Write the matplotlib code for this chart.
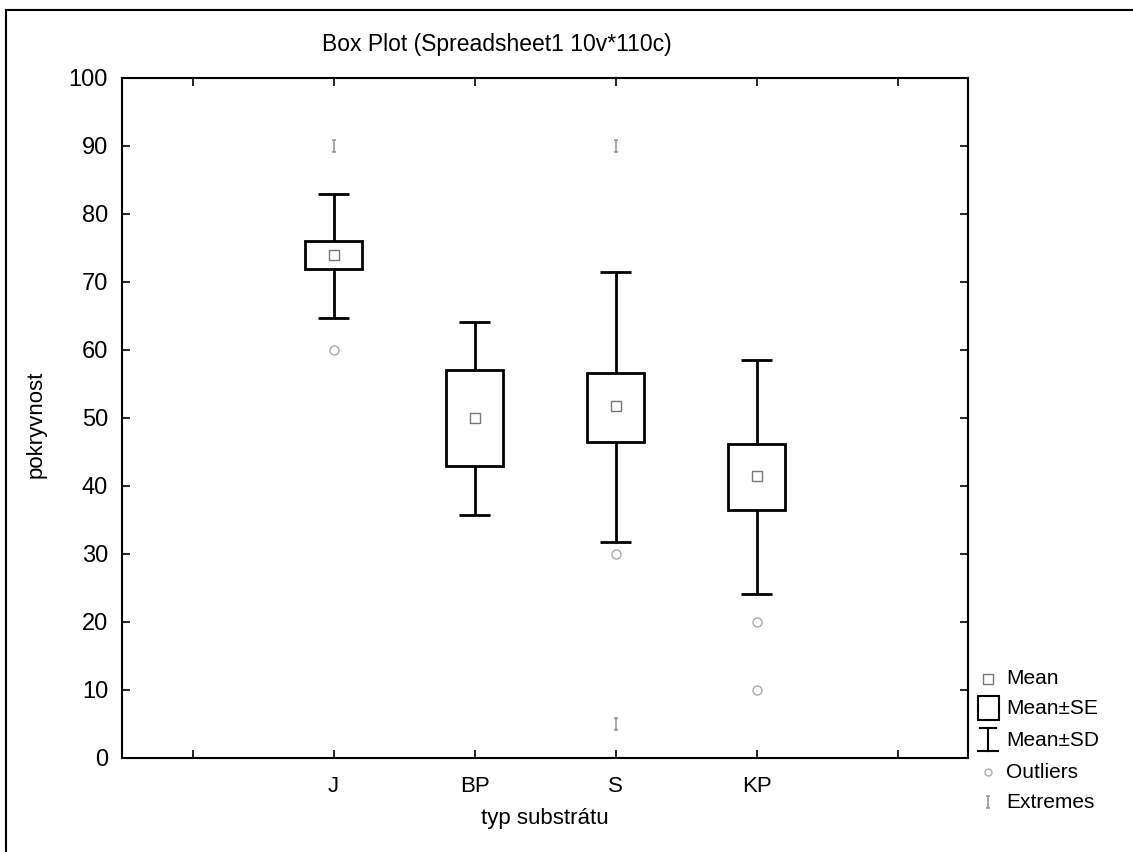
import matplotlib
matplotlib.use("Agg")
import matplotlib.pyplot as plt
from matplotlib.patches import Rectangle
from matplotlib.lines import Line2D
from matplotlib.path import Path
import numpy as np

plt.rcParams['font.family'] = ['Liberation Sans', 'DejaVu Sans']

# ---- data ----
categories = ["J", "BP", "S", "KP"]
means = [74.0, 50.0, 51.7, 41.4]
se_low = [71.9, 43.0, 46.5, 36.5]
se_high = [76.1, 57.0, 56.6, 46.2]
sd_low = [64.7, 35.8, 31.8, 24.1]
sd_high = [83.0, 64.1, 71.4, 58.5]
outliers = [[60.0], [], [30.0], [20.0, 10.0]]
extremes = [[90.0], [], [90.0, 5.0], []]
y_ticks = [0, 10, 20, 30, 40, 50, 60, 70, 80, 90, 100]

W, H = 1133, 852
fig = plt.figure(figsize=(W / 100, H / 100), dpi=100)
ax = fig.add_axes([122 / W, 1 - 758 / H, (968 - 122) / W, (758 - 78) / H])

positions = np.arange(1, len(categories) + 1)
box_w = 0.41
cap_w = 0.22
lw = 2.0

# extremes marker: an "I" shape
ipath = Path([(0, -1), (0, 1), (-0.35, 1), (0.35, 1), (-0.35, -1), (0.35, -1)],
             [Path.MOVETO, Path.LINETO, Path.MOVETO, Path.LINETO, Path.MOVETO, Path.LINETO])

for i, x in enumerate(positions):
    ax.add_patch(Rectangle((x - box_w / 2, se_low[i]), box_w, se_high[i] - se_low[i],
                           fill=False, edgecolor='black', linewidth=lw, zorder=3))
    ax.vlines(x, sd_low[i], se_low[i], color='black', linewidth=lw, zorder=3)
    ax.vlines(x, se_high[i], sd_high[i], color='black', linewidth=lw, zorder=3)
    ax.hlines([sd_low[i], sd_high[i]], x - cap_w / 2, x + cap_w / 2, color='black',
              linewidth=lw, zorder=3)
    ax.plot([x], [means[i]], marker='s', markersize=7.5, markerfacecolor='white',
            markeredgecolor='#777777', markeredgewidth=1.0, linestyle='none', zorder=4)
    if outliers[i]:
        ax.plot([x] * len(outliers[i]), outliers[i], marker='o', markersize=6.5,
                markerfacecolor='none', markeredgecolor='#aaaaaa', markeredgewidth=1.0,
                linestyle='none', zorder=4)
    if extremes[i]:
        ax.plot([x] * len(extremes[i]), extremes[i], marker=ipath, markersize=9,
                markerfacecolor='none', markeredgecolor='#999999', markeredgewidth=1.2,
                linestyle='none', zorder=4)

ax.set_xlim(-0.5, len(categories) + 1.5)
ax.set_ylim(0, 100)
ax.set_xticks(np.arange(0, len(categories) + 2))
ax.set_xticklabels([""] + categories + [""])
ax.set_yticks(y_ticks)
ax.tick_params(axis='x', direction='in', length=6, width=1.2, top=True, labelsize=16, pad=13)
ax.tick_params(axis='y', direction='in', length=6, width=1.2, right=True, labelsize=17, pad=10)
for s in ax.spines.values():
    s.set_linewidth(1.5)

ax.set_ylabel("pokryvnost", fontsize=16)
ax.yaxis.set_label_coords(-0.089, 0.49)
ax.set_xlabel("typ substrátu", fontsize=16)
ax.xaxis.set_label_coords(0.5, -0.073)

fig.text(497 / W, 1 - 45 / H, "Box Plot (Spreadsheet1 10v*110c)", ha='center',
         va='center', fontsize=16.5)

# figure border lines (top and left)
fig.add_artist(Line2D([6 / W, 1.0], [1 - 10 / H, 1 - 10 / H], transform=fig.transFigure,
                      color='black', linewidth=1.5))
fig.add_artist(Line2D([6 / W, 6 / W], [1 - 10 / H, 0.0], transform=fig.transFigure,
                      color='black', linewidth=1.5))

# ---- legend drawn in figure pixel space ----
def fx(px):
    return px / W

def fy(py):
    return 1 - py / H

leg_labels = ["Mean", "Mean±SE", "Mean±SD", "Outliers", "Extremes"]
leg_y = [679, 708, 740, 772, 802]
sym_x = 988
text_x = 1006
for lab, yy in zip(leg_labels, leg_y):
    fig.text(fx(text_x), fy(yy), lab, ha='left', va='center', fontsize=15)

# Mean symbol
fig.add_artist(Line2D([fx(sym_x)], [fy(leg_y[0])], transform=fig.transFigure, marker='s',
                      markersize=6.5, markerfacecolor='white', markeredgecolor='#777777',
                      markeredgewidth=1.0, linestyle='none'))
# SE box
fig.add_artist(Rectangle((fx(978), fy(720)), 21 / W, 24 / H, transform=fig.transFigure,
                         fill=False, edgecolor='black', linewidth=1.5))
# SD bar (I shape)
fig.add_artist(Line2D([fx(sym_x), fx(sym_x)], [fy(728), fy(751)], transform=fig.transFigure,
                      color='black', linewidth=1.5))
fig.add_artist(Line2D([fx(980), fx(996)], [fy(728), fy(728)], transform=fig.transFigure,
                      color='black', linewidth=1.5))
fig.add_artist(Line2D([fx(978), fx(998)], [fy(751), fy(751)], transform=fig.transFigure,
                      color='black', linewidth=1.5))
# Outliers
fig.add_artist(Line2D([fx(sym_x)], [fy(leg_y[3])], transform=fig.transFigure, marker='o',
                      markersize=5, markerfacecolor='none', markeredgecolor='#aaaaaa',
                      markeredgewidth=1.0, linestyle='none'))
# Extremes
fig.add_artist(Line2D([fx(sym_x)], [fy(leg_y[4])], transform=fig.transFigure, marker=ipath,
                      markersize=8, markerfacecolor='none', markeredgecolor='#999999',
                      markeredgewidth=1.2, linestyle='none'))

fig.savefig("out.png", dpi=100)
